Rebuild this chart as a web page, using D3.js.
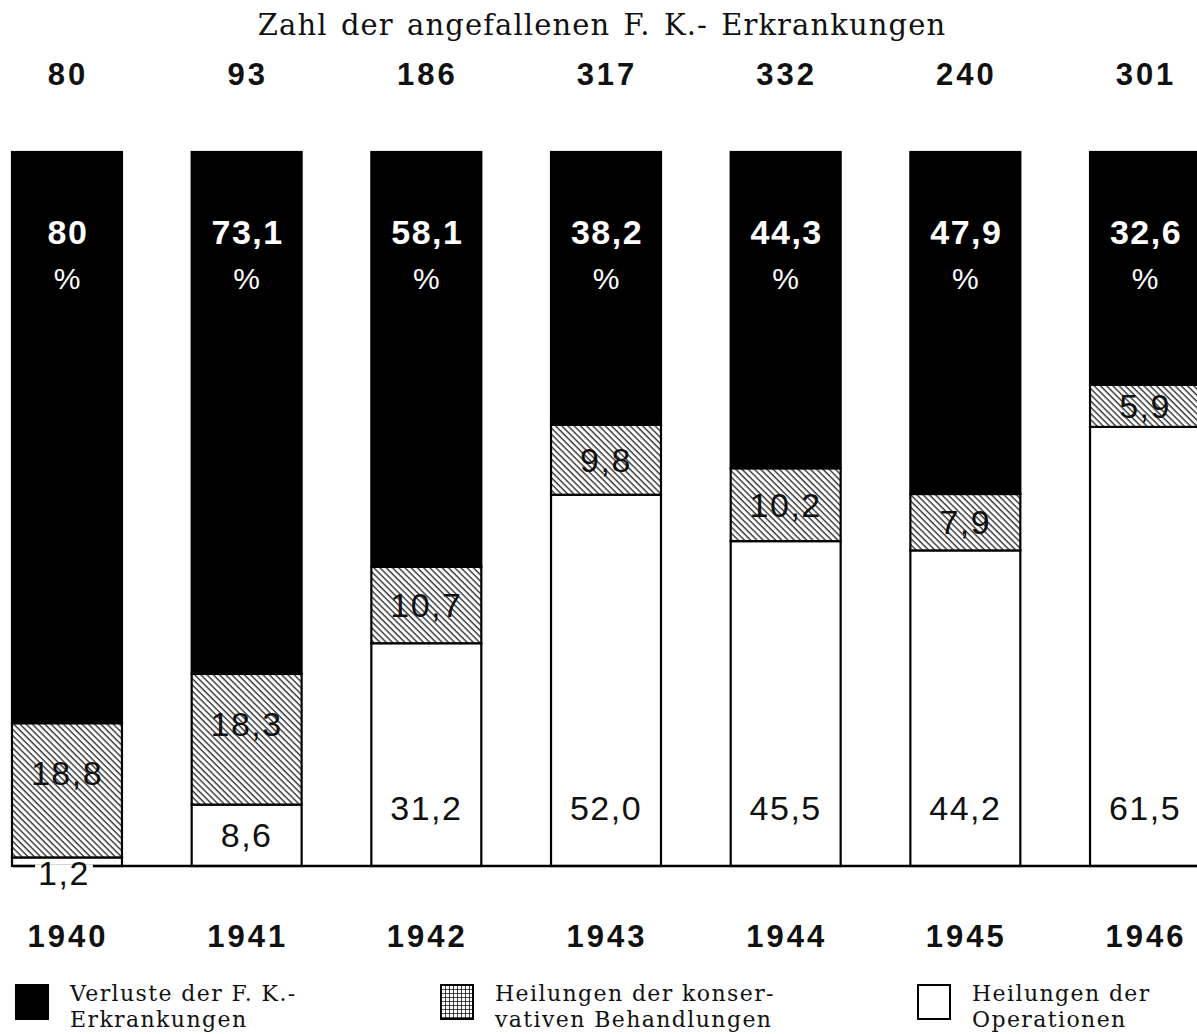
<!DOCTYPE html>
<html lang="de">
<head>
<meta charset="UTF-8">
<title>F. K.-Erkrankungen 1940–1946</title>
<script src="https://d3js.org/d3.v7.min.js"></script>
<style>
  body { margin: 0; background: #fff; }
  svg { display: block; }
  .num { font-family: "Liberation Sans", Arial, sans-serif; }
  .serif { font-family: "DejaVu Serif", serif; }
</style>
</head>
<body>
<svg id="chart" width="1197" height="1034"></svg>
<script>
// values (percent of cases per year)
const years = ['1940', '1941', '1942', '1943', '1944', '1945', '1946'];
const cases = [80, 93, 186, 317, 332, 240, 301];
const losses = [80, 73.1, 58.1, 38.2, 44.3, 47.9, 32.6];
const conservative = [18.8, 18.3, 10.7, 9.8, 10.2, 7.9, 5.9];
const operations = [1.2, 8.6, 31.2, 52.0, 45.5, 44.2, 61.5];
const keys = ['operations', 'conservative', 'losses'];
const legendLabels = [
    ['Verluste der F. K.-', 'Erkrankungen'],
    ['Heilungen der konser-', 'vativen Behandlungen'],
    ['Heilungen der', 'Operationen']
];
const title = 'Zahl der angefallenen F. K.- Erkrankungen';

const rows = years.map((y, i) => ({
    year: y, cases: cases[i],
    losses: losses[i], conservative: conservative[i], operations: operations[i]
}));

const svg = d3.select('#chart');
const baseY = 866, topY = 152;

const x = d3.scaleBand().domain(years).range([12, 1200]).paddingInner(0.388).paddingOuter(0);
const y = d3.scaleLinear().domain([0, 100]).range([baseY, topY]);

const fmt = d => d.toFixed(1).replace('.', ',');

// patterns
const defs = svg.append('defs');
const hatch = defs.append('pattern')
    .attr('id', 'hatch').attr('patternUnits', 'userSpaceOnUse')
    .attr('width', 4.4).attr('height', 4.4)
    .attr('patternTransform', 'rotate(45)');
hatch.append('rect').attr('width', 4.4).attr('height', 4.4).attr('fill', '#fff');
hatch.append('rect').attr('width', 4.4).attr('height', 1.4).attr('fill', '#333');

const grid = defs.append('pattern')
    .attr('id', 'grid').attr('patternUnits', 'userSpaceOnUse')
    .attr('width', 4).attr('height', 4);
grid.append('rect').attr('width', 4).attr('height', 4).attr('fill', '#fff');
grid.append('path').attr('d', 'M0,0H4M0,0V4').attr('stroke', '#111').attr('stroke-width', 1.6);

const fills = { losses: '#000', conservative: 'url(#hatch)', operations: '#fff' };

// title and case counts
svg.append('text').attr('class', 'serif')
    .attr('x', 602).attr('y', 35)
    .attr('text-anchor', 'middle').attr('font-size', 29)
    .attr('letter-spacing', 1.1).attr('word-spacing', 3)
    .attr('fill', '#111')
    .text(title);

svg.append('g').selectAll('text').data(rows).join('text')
    .attr('class', 'num')
    .attr('x', d => x(d.year) + x.bandwidth() / 2 + 1)
    .attr('y', 85)
    .attr('text-anchor', 'middle').attr('font-size', 31).attr('font-weight', 'bold')
    .attr('letter-spacing', 3)
    .attr('fill', '#111')
    .text(d => d.cases);

// stacked bars
const series = d3.stack().keys(keys)(rows);

const layer = svg.append('g').selectAll('g').data(series).join('g')
    .attr('fill', s => fills[s.key]);

layer.selectAll('rect').data(s => s).join('rect')
    .attr('x', d => x(d.data.year))
    .attr('y', d => y(d[1]))
    .attr('width', x.bandwidth())
    .attr('height', d => y(d[0]) - y(d[1]))
    .attr('stroke', '#000')
    .attr('stroke-width', 2.2);

// baseline
svg.append('line')
    .attr('x1', 13).attr('x2', 1197)
    .attr('y1', baseY).attr('y2', baseY)
    .attr('stroke', '#000').attr('stroke-width', 2.6);

// labels in the bars
const labels = svg.append('g').attr('class', 'num');

series.forEach(s => {
    s.forEach(d => {
        const cx = x(d.data.year) + x.bandwidth() / 2;
        const y0 = y(d[0]), y1 = y(d[1]);
        const v = d.data[s.key];
        if (s.key === 'losses') {
            labels.append('text')
                .attr('x', cx + 1).attr('y', y1 + 92)
                .attr('text-anchor', 'middle').attr('font-size', 34).attr('font-weight', 'bold')
                .attr('letter-spacing', 1.5)
                .attr('fill', '#fff')
                .text(fmt(v).replace(/,0$/, ''));
            labels.append('text')
                .attr('x', cx).attr('y', y1 + 137)
                .attr('text-anchor', 'middle').attr('font-size', 30)
                .attr('fill', '#fff')
                .text('%');
        } else if (s.key === 'conservative') {
            const cy = Math.min((y0 + y1) / 2, y1 + 50);
            labels.append('text')
                .attr('x', cx).attr('y', cy + 12)
                .attr('text-anchor', 'middle').attr('font-size', 34)
                .attr('letter-spacing', 1.5)
                .attr('fill', '#111')
                .text(fmt(v));
        } else {
            if (y0 - y1 < 30) {
                // too thin: label sits on the baseline
                const t = labels.append('text')
                    .attr('x', cx - 3).attr('y', baseY + 19)
                    .attr('text-anchor', 'middle').attr('font-size', 34)
                    .attr('letter-spacing', 1.5)
                    .attr('fill', '#111')
                    .text(fmt(v));
                const b = t.node().getBBox();
                labels.insert('rect', 'text')
                    .attr('x', b.x - 3).attr('y', baseY - 1.5)
                    .attr('width', b.width + 6).attr('height', 12)
                    .attr('fill', '#fff');
            } else {
                const cy = Math.max((y0 + y1) / 2, y0 - 58);
                labels.append('text')
                    .attr('x', cx).attr('y', cy + 12)
                    .attr('text-anchor', 'middle').attr('font-size', 34)
                    .attr('letter-spacing', 1.5)
                    .attr('fill', '#111')
                    .text(fmt(v));
            }
        }
    });
});

// year labels
svg.append('g').selectAll('text').data(rows).join('text')
    .attr('class', 'num')
    .attr('x', d => x(d.year) + x.bandwidth() / 2 + 1)
    .attr('y', 947)
    .attr('text-anchor', 'middle').attr('font-size', 31).attr('font-weight', 'bold')
    .attr('letter-spacing', 3)
    .attr('fill', '#111')
    .text(d => d.year);

// legend
const legendX = [16, 441, 918];
const legendFill = ['#000', 'url(#grid)', '#fff'];
const legend = svg.append('g').selectAll('g').data(legendLabels).join('g')
    .attr('transform', (d, i) => `translate(${legendX[i]},985)`);

legend.append('rect')
    .attr('width', 32).attr('height', 34)
    .attr('fill', (d, i) => legendFill[i])
    .attr('stroke', '#000').attr('stroke-width', 2);

legend.append('text').attr('class', 'serif')
    .attr('font-size', 22).attr('letter-spacing', 1.4).attr('fill', '#111')
    .selectAll('tspan').data(d => d).join('tspan')
    .attr('x', 54)
    .attr('y', (d, i) => 16 + i * 26)
    .text(d => d);
</script>
</body>
</html>
